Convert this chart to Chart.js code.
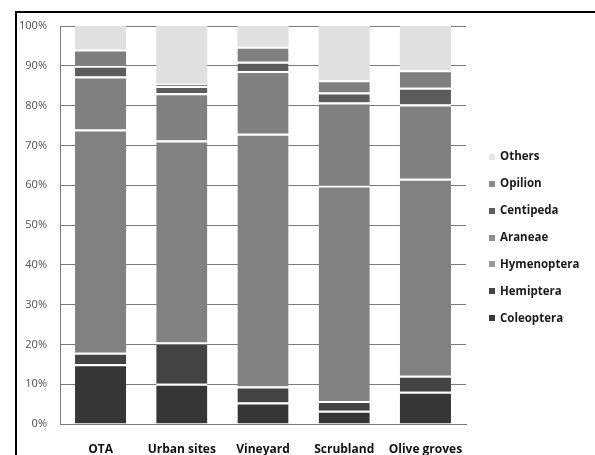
<!DOCTYPE html>
<html>
<head>
<meta charset="utf-8">
<script src="https://cdn.jsdelivr.net/npm/chart.js@4/dist/chart.umd.min.js"></script>
<style>
  html, body { margin: 0; padding: 0; background: #fff; }
  #wrap { position: relative; width: 595px; height: 455px; }
</style>
</head>
<body>
<div id="wrap"><canvas id="c" width="595" height="455"></canvas></div>
<script>
// Share of each arthropod group per habitat (%)
const habitats = ['OTA', 'Urban sites', 'Vineyard', 'Scrubland', 'Olive groves'];
const coleoptera  = [15.0, 10.1,  5.4,  3.3,  8.1];
const hemiptera   = [ 2.9, 10.4,  4.0,  2.5,  4.0];
const hymenoptera = [56.1, 50.7, 63.5, 54.1, 49.5];
const araneae     = [13.3, 11.9, 15.8, 20.9, 18.7];
const centipeda   = [ 2.7,  1.8,  2.3,  2.5,  4.2];
const opilion     = [ 4.1,  0.6,  3.8,  3.1,  4.4];
const others      = [ 5.9, 14.5,  5.2, 13.6, 11.1];
const yTicks = [0, 10, 20, 30, 40, 50, 60, 70, 80, 90, 100];

const groups = [
  { label: 'Coleoptera',  data: coleoptera,  color: '#363636', legend: '#3a3a3a' },
  { label: 'Hemiptera',   data: hemiptera,   color: '#434343', legend: '#444444' },
  { label: 'Hymenoptera', data: hymenoptera, color: '#818181', legend: '#999999' },
  { label: 'Araneae',     data: araneae,     color: '#808080', legend: '#8e8e8e' },
  { label: 'Centipeda',   data: centipeda,   color: '#5c5c5c', legend: '#606060' },
  { label: 'Opilion',     data: opilion,     color: '#7f7f7f', legend: '#8a8a8a' },
  { label: 'Others',      data: others,      color: '#e0e0e0', legend: '#e6e6e6' }
];

const datasets = groups.map(g => ({
  label: g.label,
  data: g.data,
  backgroundColor: g.color,
  legendColor: g.legend,
  borderColor: '#ffffff',
  borderWidth: g.label === 'Others' ? 0 : { top: 2, bottom: 0, left: 0, right: 0 },
  borderSkipped: false,
  barPercentage: 0.63,
  categoryPercentage: 1.0
}));

// Frame lines along the top and left of the figure
const framePlugin = {
  id: 'frame',
  afterDraw(chart) {
    const ctx = chart.ctx;
    ctx.save();
    ctx.fillStyle = '#000';
    ctx.fillRect(15, 11, 2, chart.height - 11);
    ctx.fillRect(15, 11, chart.width - 15, 2);
    ctx.restore();
  }
};

// Vertical legend on the right, top entry = top of stack
const legendPlugin = {
  id: 'sideLegend',
  afterDraw(chart) {
    const ctx = chart.ctx;
    const items = chart.data.datasets.slice().reverse();
    const x0 = 489, y0 = 156.7, step = 26.94, box = 6;
    ctx.save();
    ctx.font = 'bold 11.5px "Open Sans"';
    ctx.textBaseline = 'middle';
    ctx.textAlign = 'left';
    items.forEach((ds, i) => {
      const y = y0 + i * step;
      ctx.fillStyle = ds.legendColor;
      ctx.fillRect(x0, Math.round(y - box / 2), box, box);
      ctx.fillStyle = '#1a1a1a';
      ctx.fillText(ds.label, x0 + 11, y);
    });
    ctx.restore();
  }
};

new Chart(document.getElementById('c'), {
  type: 'bar',
  data: { labels: habitats, datasets },
  plugins: [framePlugin, legendPlugin],
  options: {
    responsive: false,
    animation: false,
    layout: { padding: { top: 26, right: 129, bottom: 0, left: 0 } },
    plugins: {
      legend: { display: false },
      tooltip: { enabled: false }
    },
    scales: {
      x: {
        stacked: true,
        grid: { display: false },
        border: { display: true, color: '#7a7a7a', width: 1 },
        ticks: {
          padding: 10,
          color: '#111',
          font: { family: 'Open Sans', size: 12, weight: 'bold' }
        },
        afterFit(scale) { scale.height = 31; }
      },
      y: {
        stacked: true,
        min: 0,
        max: 100,
        afterBuildTicks(scale) { scale.ticks = yTicks.map(v => ({ value: v })); },
        grid: { color: '#7a7a7a', lineWidth: 1, drawTicks: false },
        border: { display: true, color: '#7a7a7a', width: 1 },
        ticks: {
          padding: 13,
          color: '#505050',
          font: { family: 'Open Sans', size: 11 },
          callback: v => v + '%'
        },
        afterFit(scale) { scale.width = 60; }
      }
    }
  }
});
</script>
</body>
</html>
